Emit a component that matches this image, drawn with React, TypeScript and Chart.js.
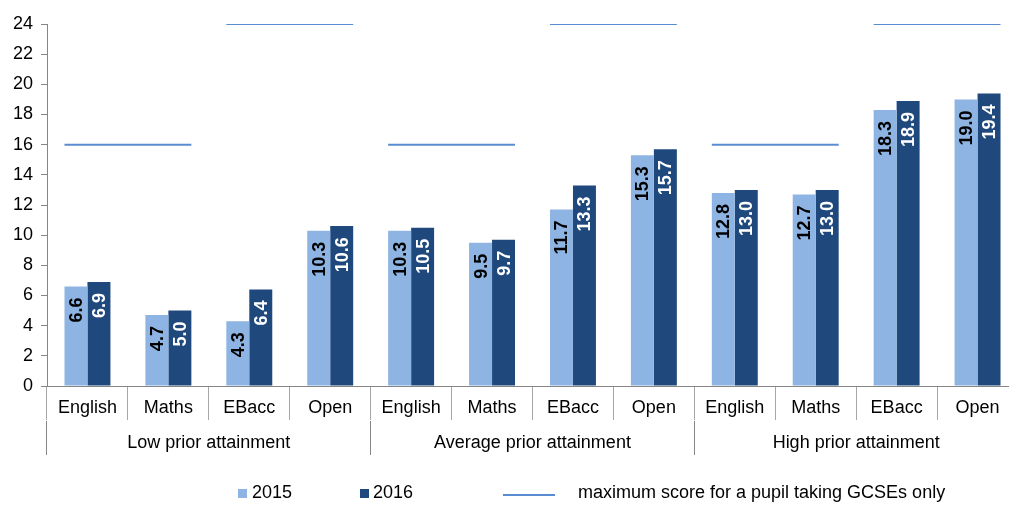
import React, { useEffect, useRef } from "react";
import { Chart, registerables } from "chart.js";

Chart.register(...registerables);

const subjects = ["English", "Maths", "EBacc", "Open"];
const groups = ["Low prior attainment", "Average prior attainment", "High prior attainment"];
const values2015 = [6.6, 4.7, 4.3, 10.3, 10.3, 9.5, 11.7, 15.3, 12.8, 12.7, 18.3, 19.0];
const values2016 = [6.9, 5.0, 6.4, 10.6, 10.5, 9.7, 13.3, 15.7, 13.0, 13.0, 18.9, 19.4];
const maxScore = [16, 16, 24, 24, 16, 16, 24, 24, 16, 16, 24, 24];
const seriesLabels = ["2015", "2016", "maximum score for a pupil taking GCSEs only"];
const yTicksMax = 24;
const yTickStep = 2;

const COLOR_2015 = "#8EB4E3";
const COLOR_2016 = "#1F497D";
const COLOR_MAX = "#5A8CD2";
const FONT_FAMILY = '"Liberation Sans", Arial, sans-serif';

const catPct = 0.568;

function toPoints(values: number[]) {
  return values.map((v, i) => ({ x: i, y: v }));
}

function buildMaxLine() {
  const half = catPct / 2;
  const pts: { x: number; y: number | null }[] = [];
  for (let i = 0; i < maxScore.length; i += 2) {
    pts.push({ x: i - half, y: maxScore[i] });
    pts.push({ x: i + 1 + half, y: maxScore[i + 1] });
    pts.push({ x: i + 1.5, y: null });
  }
  return pts;
}

const dataLabelPlugin = {
  id: "dataLabels",
  afterDatasetsDraw(chart: any) {
    const ctx = chart.ctx;
    [0, 1].forEach((di) => {
      const meta = chart.getDatasetMeta(di);
      const ds = chart.data.datasets[di];
      meta.data.forEach((bar: any, i: number) => {
        const v = ds.data[i].y as number;
        ctx.save();
        ctx.translate(bar.x + 1, bar.y + 11);
        ctx.rotate(-Math.PI / 2);
        ctx.font = `bold 18px ${FONT_FAMILY}`;
        ctx.fillStyle = di === 0 ? "#000" : "#fff";
        ctx.textAlign = "right";
        ctx.textBaseline = "middle";
        ctx.fillText(v.toFixed(1), 0, 0);
        ctx.restore();
      });
    });
  },
};

const legendPlugin = {
  id: "customLegend",
  afterDraw(chart: any) {
    const ctx = chart.ctx;
    const ds = chart.data.datasets;
    ctx.save();
    ctx.font = `18px ${FONT_FAMILY}`;
    ctx.textBaseline = "middle";
    ctx.textAlign = "left";
    const cy = 493;
    ctx.fillStyle = ds[0].backgroundColor;
    ctx.fillRect(238, 489, 9, 9);
    ctx.fillStyle = "#000";
    ctx.fillText(ds[0].label, 252, cy);
    ctx.fillStyle = ds[1].backgroundColor;
    ctx.fillRect(360, 489, 9, 9);
    ctx.fillStyle = "#000";
    ctx.fillText(ds[1].label, 373, cy);
    ctx.strokeStyle = ds[2].borderColor;
    ctx.lineWidth = 2;
    ctx.beginPath();
    ctx.moveTo(503, 495);
    ctx.lineTo(555, 495);
    ctx.stroke();
    ctx.fillText(ds[2].label, 578, cy);
    ctx.restore();
  },
};

export default function App() {
  const ref = useRef<HTMLCanvasElement | null>(null);

  useEffect(() => {
    if (!ref.current) return;
    const categoryLabels = groups.flatMap(() => subjects);
    const font = { family: FONT_FAMILY, size: 18 };
    const chart = new Chart(ref.current, {
      type: "bar",
      data: {
        datasets: [
          {
            label: seriesLabels[0],
            data: toPoints(values2015),
            backgroundColor: COLOR_2015,
            borderWidth: 0,
            xAxisID: "x",
            yAxisID: "y",
            categoryPercentage: catPct,
            barPercentage: 1,
          } as any,
          {
            label: seriesLabels[1],
            data: toPoints(values2016),
            backgroundColor: COLOR_2016,
            borderWidth: 0,
            xAxisID: "x",
            yAxisID: "y",
            categoryPercentage: catPct,
            barPercentage: 1,
          } as any,
          {
            type: "line",
            label: seriesLabels[2],
            data: buildMaxLine(),
            borderColor: COLOR_MAX,
            backgroundColor: COLOR_MAX,
            borderWidth: 2,
            pointRadius: 0,
            spanGaps: false,
            xAxisID: "x",
            yAxisID: "y",
          } as any,
        ],
      },
      options: {
        responsive: false,
        animation: false,
        devicePixelRatio: 1,
        layout: { padding: { left: 0, top: 24, right: 12, bottom: 44 } },
        plugins: { legend: { display: false }, tooltip: { enabled: false } },
        scales: {
          x: {
            type: "linear",
            display: false,
            offset: false,
            min: -0.5,
            max: categoryLabels.length - 0.5,
            grid: { offset: false },
            afterBuildTicks: (s: any) => {
              s.ticks = [];
            },
          },
          xc: {
            type: "category",
            labels: categoryLabels,
            position: "bottom",
            offset: true,
            grid: {
              display: true,
              offset: true,
              drawOnChartArea: false,
              drawTicks: true,
              tickLength: 34,
              color: "#a6a6a6",
            },
            border: { display: true, color: "#868686" },
            ticks: { font, color: "#000", padding: -23, maxRotation: 0, autoSkip: false },
            afterFit: (s: any) => {
              s.height = 35;
            },
          },
          xg: {
            type: "category",
            labels: groups,
            position: "bottom",
            offset: true,
            grid: {
              display: true,
              offset: true,
              drawOnChartArea: false,
              drawTicks: true,
              tickLength: 34,
              color: "#868686",
            },
            border: { display: false },
            ticks: { font, color: "#000", padding: -23, maxRotation: 0, autoSkip: false },
            afterFit: (s: any) => {
              s.height = 40;
            },
          },
          y: {
            min: 0,
            max: yTicksMax,
            ticks: { stepSize: yTickStep, font, color: "#000", padding: 8 },
            grid: { drawOnChartArea: false, tickLength: 6, color: "#868686" },
            border: { display: true, color: "#868686" },
            afterFit: (s: any) => {
              s.width = 47;
            },
          },
        } as any,
      },
      plugins: [dataLabelPlugin, legendPlugin],
    });
    return () => chart.destroy();
  }, []);

  return (
    <div
      style={{
        position: "fixed",
        left: 0,
        top: 0,
        width: 1009,
        height: 505,
        overflow: "hidden",
        background: "#fff",
      }}
    >
      <canvas ref={ref} width={1030} height={505} style={{ display: "block" }} />
    </div>
  );
}
